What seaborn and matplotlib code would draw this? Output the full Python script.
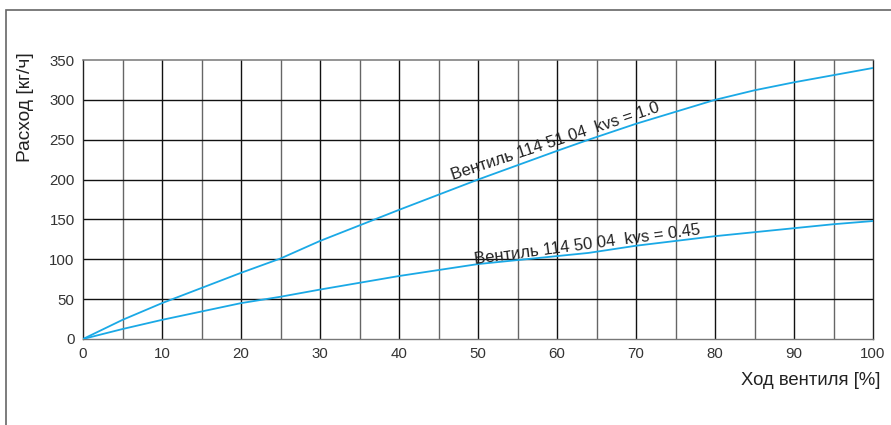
import numpy as np
import pandas as pd
import matplotlib
matplotlib.use("Agg")
import matplotlib.pyplot as plt
import seaborn as sns
from matplotlib.patches import Rectangle

# valve stroke [%]
stroke = [0, 5, 10, 20, 25, 30, 40, 50, 60, 64, 70, 80, 85, 90, 95, 100]
# flow [kg/h] for each valve
flow_kvs10 = [0, 24, 45, 83, 101, 123, 162, 200, 236, 250, 270, 300, 312, 322, 331, 340]
flow_kvs045 = [0, 12.5, 24, 45, 53, 62, 79, 94, 104, 108, 117, 129, 134, 139, 144, 148]

label_kvs10 = "Вентиль 114 51 04  kvs = 1.0"
label_kvs045 = "Вентиль 114 50 04  kvs = 0.45"

x_ticks = list(range(0, 101, 10))
y_ticks = list(range(0, 351, 50))

sns.set_style("white")
plt.rcParams['font.family'] = ['Liberation Sans', 'DejaVu Sans']

df = pd.concat([
    pd.DataFrame({"stroke": stroke, "flow": flow_kvs10, "valve": label_kvs10}),
    pd.DataFrame({"stroke": stroke, "flow": flow_kvs045, "valve": label_kvs045}),
])

fig = plt.figure(figsize=(8.91, 4.25), dpi=100)
ax = fig.add_axes([83 / 891, 86 / 425, 790 / 891, 279 / 425])

# grid every 5 % and every 50 kg/h
for v in range(5, 100, 5):
    ax.axvline(v, color="#111111" if v % 10 == 0 else "#666666", lw=1.0, zorder=1)
for h in range(50, 350, 50):
    ax.axhline(h, color="#111111", lw=1.0, zorder=1)

sns.lineplot(data=df, x="stroke", y="flow", hue="valve",
             palette=["#1aa9e6", "#1aa9e6"], linewidth=1.3,
             legend=False, ax=ax, zorder=3)

ax.set_xlim(0, 100)
ax.set_ylim(0, 350)
ax.set_xticks(x_ticks)
ax.set_xticks(range(5, 100, 10), minor=True)
ax.set_yticks(y_ticks)
ax.tick_params(axis="both", which="both", direction="out", length=4, width=1,
               color="#222222", labelsize=10.8, labelcolor="#333333", pad=2)

for side in ["left", "right", "bottom"]:
    ax.spines[side].set_color("#222222")
    ax.spines[side].set_linewidth(1.0)
ax.spines["top"].set_color("#777777")
ax.spines["top"].set_linewidth(1.1)
ax.spines["bottom"].set_color("#777777")

ax.set_xlabel("Ход вентиля [%]", fontsize=13.3, color="#222222", ha="right")
ax.xaxis.set_label_coords(1.009, -0.12)
ax.set_ylabel("Расход [кг/ч]", fontsize=13.8, color="#222222")
ax.yaxis.set_label_coords(-0.062, 0.83)

ax.text(46.8, 199, label_kvs10, rotation=18.3, fontsize=12, color="#222222",
        ha="left", va="baseline", rotation_mode="anchor", zorder=4)
ax.text(49.6, 94, label_kvs045, rotation=7.5, fontsize=12, color="#222222",
        ha="left", va="baseline", rotation_mode="anchor", zorder=4)

# outer frame of the figure
fig.patches.append(Rectangle((6 / 891, -0.1), 1.2, (415 / 425) + 0.1,
                             transform=fig.transFigure, fill=False,
                             edgecolor="#666666", lw=1.2))

fig.savefig("out.png", dpi=100)
